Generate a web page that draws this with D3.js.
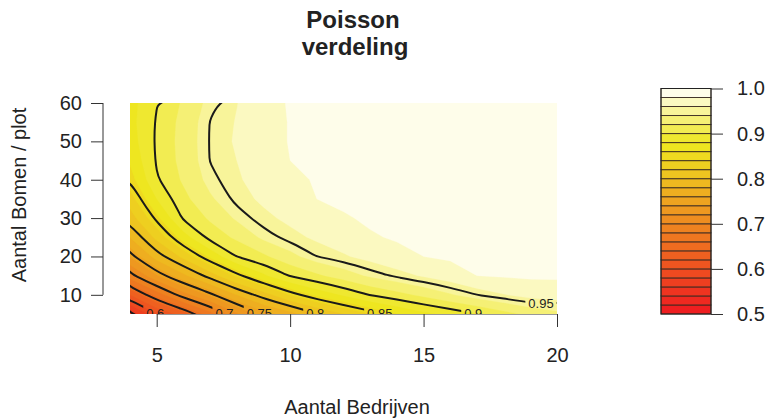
<!DOCTYPE html>
<html>
<head>
<meta charset="utf-8">
<script src="https://cdn.jsdelivr.net/npm/d3@7"></script>
<style>
  body { margin: 0; background: #fff; }
  #chart svg { display: block; font-family: "Liberation Sans", Arial, Helvetica, sans-serif; }
</style>
</head>
<body>
<div id="chart"></div>
<script>
// grid: x = Aantal Bedrijven, y = Aantal Bomen / plot
const bedrijven = [4, 5, 6, 7, 8, 9, 10, 11, 12, 13, 14, 15, 16, 17, 18, 19, 20];
const bomen = [5, 10, 15, 20, 25, 30, 35, 40, 45, 50, 55, 60];
// one row per value of bomen (bottom to top), one column per value of bedrijven
const kans = [
  [.544,.599,.631,.672,.717,.752,.772,.798,.820,.840,.859,.875,.887,.899,.913,.925,.935],
  [.621,.668,.711,.744,.781,.810,.841,.865,.883,.901,.913,.925,.938,.950,.959,.967,.969],
  [.692,.738,.775,.809,.844,.876,.902,.916,.930,.943,.953,.962,.970,.980,.982,.983,.983],
  [.742,.790,.826,.864,.9004,.916,.934,.950,.958,.966,.974,.980,.983,.985,.986,.987,.987],
  [.781,.826,.870,.907,.924,.944,.955,.963,.970,.978,.982,.985,.986,.987,.988,.988,.988],
  [.810,.855,.903,.923,.943,.956,.964,.972,.978,.983,.985,.986,.987,.988,.989,.989,.989],
  [.831,.880,.914,.937,.954,.963,.972,.980,.984,.985,.986,.987,.988,.989,.989,.990,.990],
  [.851,.898,.923,.946,.958,.967,.976,.9815,.985,.986,.987,.988,.989,.989,.990,.990,.990],
  [.863,.902,.927,.9505,.960,.970,.980,.984,.986,.987,.988,.989,.989,.990,.990,.990,.990],
  [.870,.903,.928,.951,.962,.972,.981,.985,.986,.987,.988,.989,.989,.990,.990,.990,.990],
  [.873,.902,.927,.9505,.961,.972,.981,.985,.987,.988,.988,.989,.990,.990,.990,.990,.990],
  [.872,.899,.923,.946,.9595,.971,.982,.985,.988,.989,.989,.990,.990,.990,.990,.990,.990]
];

const vulNiveaus = [0.50,0.52,0.54,0.56,0.58,0.60,0.62,0.64,0.66,0.68,0.70,0.72,0.74,
  0.76,0.78,0.80,0.82,0.84,0.86,0.88,0.90,0.92,0.94,0.96,0.98,1.00];
const lijnNiveaus = [0.55, 0.60, 0.65, 0.70, 0.75, 0.80, 0.85, 0.90, 0.95];
const labelNiveaus = [0.6, 0.7, 0.75, 0.8, 0.85, 0.9, 0.95];
const xTicks = [5, 10, 15, 20];
const yTicks = [10, 20, 30, 40, 50, 60];
const keyTicks = [0.5, 0.6, 0.7, 0.8, 0.9, 1.0];

const W = 766, H = 419;
const plot = { left: 130, right: 557, top: 103, bottom: 314 };

// R heat.colors(n), a little muted like the printed original
function heatColors(n) {
  const j = Math.floor(n / 4), i = n - j;
  const out = [];
  for (let k = 0; k < i; k++) out.push(hsv(k / (i - 1) / 6, 1));
  for (let k = 0; k < j; k++) out.push(hsv(1 / 6, (1 - 1 / (2 * j)) + k * (1 / j - 1) / (j - 1)));
  return out;
}
function hsv(h, s) {
  const g = 1 - s * (1 - h * 6), b = 1 - s;
  const R = 255 - 17 * s;
  const G = g * 255 * (1 - 0.1 * s) + 30 * s * (1 - g);
  const B = b * 255 + 32 * s * (1 - b);
  return d3.rgb(R, G, B).formatHex();
}
const kleuren = heatColors(vulNiveaus.length - 1);

let svg = d3.select("#chart").append("svg").attr("width", W).attr("height", H);

let x = d3.scaleLinear().domain([bedrijven[0], bedrijven[bedrijven.length - 1]]).range([plot.left, plot.right]);
let y = d3.scaleLinear().domain([bomen[0], bomen[bomen.length - 1]]).range([plot.bottom, plot.top]);
let key = d3.scaleLinear().domain([vulNiveaus[0], vulNiveaus[vulNiveaus.length - 1]]).range([314, 88.5]);

// grid index -> data value (d3.contours puts sample i at i + 0.5)
let ix = d3.scaleLinear().domain([0, bedrijven.length - 1]).range(x.domain());
let iy = d3.scaleLinear().domain([0, bomen.length - 1]).range(y.domain());
const toPx = (p) => [x(ix(p[0] - 0.5)), y(iy(p[1] - 0.5))];

const values = kans.flat();
const contours = d3.contours().size([bedrijven.length, bomen.length]);

let defs = svg.append("defs");
defs.append("clipPath").attr("id", "plotClip")
  .append("rect")
  .attr("x", plot.left).attr("y", plot.top)
  .attr("width", plot.right - plot.left).attr("height", plot.bottom - plot.top);

// x axis first, its line sits under the fill
let xAxis = svg.append("g")
  .attr("transform", "translate(0," + plot.bottom + ")")
  .call(d3.axisBottom(x).tickValues(xTicks).tickSize(13).tickPadding(21).tickSizeOuter(0));
xAxis.select(".domain").attr("d", "M" + x(xTicks[0]) + ",0H" + x(xTicks[xTicks.length - 1]));

// filled bands
let geo = d3.geoPath(d3.geoTransform({
  point: function (px, py) { const p = toPx([px, py]); this.stream.point(p[0], p[1]); }
}));
let plotG = svg.append("g").attr("clip-path", "url(#plotClip)");
plotG.selectAll("path.band")
  .data(contours.thresholds(vulNiveaus.slice(0, -1))(values))
  .enter()
  .append("path")
  .attr("class", "band")
  .attr("d", geo)
  .attr("fill", (d, i) => kleuren[i])
  .attr("stroke", (d, i) => kleuren[i])
  .attr("stroke-width", 0.3);

// contour lines, smoothed
let lijnen = contours.thresholds(lijnNiveaus)(values);
let ringLine = d3.line().curve(d3.curveBasisClosed);
let pxRings = lijnen.map(c => {
  let rings = [];
  c.coordinates.forEach(poly => poly.forEach(ring => rings.push(ring.map(toPx))));
  return { value: c.value, rings: rings };
});

// label positions: where the line meets the bottom edge, else near the right edge
let labels = [];
pxRings.filter(c => labelNiveaus.some(v => Math.abs(v - c.value) < 1e-6)).forEach(c => {
  let best = null;
  const yb = plot.bottom - 1;
  c.rings.forEach(r => {
    for (let k = 0; k < r.length - 1; k++) {
      const [x1, y1] = r[k], [x2, y2] = r[k + 1];
      if ((y1 - yb) * (y2 - yb) < 0) {
        const xc = x1 + (yb - y1) / (y2 - y1) * (x2 - x1);
        if (xc > plot.left + 10 && xc < plot.right - 10 && (!best || xc > best[0])) best = [xc, yb];
      }
    }
  });
  if (!best) {
    const xr = plot.right - 16;
    c.rings.forEach(r => {
      for (let k = 0; k < r.length - 1; k++) {
        const [x1, y1] = r[k], [x2, y2] = r[k + 1];
        if ((x1 - xr) * (x2 - xr) < 0) {
          const yc = y1 + (xr - x1) / (x2 - x1) * (y2 - y1);
          if (yc > plot.top && yc < plot.bottom && (!best || yc > best[1])) best = [xr, yc];
        }
      }
    });
  }
  if (best) labels.push({ value: c.value, x: best[0], y: best[1] });
});

let labelG = plotG.append("g");
labelG.selectAll("text")
  .data(labels)
  .enter()
  .append("text")
  .attr("x", d => d.x)
  .attr("y", d => d.y)
  .attr("dy", "0.35em")
  .attr("text-anchor", "middle")
  .attr("font-size", 13)
  .attr("fill", "#222")
  .text(d => d3.format("")(d.value));

let mask = defs.append("mask").attr("id", "labelMask")
  .attr("maskUnits", "userSpaceOnUse").attr("x", 0).attr("y", 0).attr("width", W).attr("height", H);
mask.append("rect").attr("width", W).attr("height", H).attr("fill", "white");
labelG.selectAll("text").each(function (d) {
  const w = this.getComputedTextLength();
  mask.append("rect")
    .attr("x", d.x - w / 2 - 3).attr("y", d.y - 7)
    .attr("width", w + 6).attr("height", 14)
    .attr("fill", "black");
});

plotG.insert("g", "g").attr("mask", "url(#labelMask)")
  .selectAll("path")
  .data(pxRings)
  .enter()
  .append("path")
  .attr("d", c => c.rings.map(r => ringLine(r.slice(0, -1))).join(""))
  .attr("fill", "none")
  .attr("stroke", "#1a1a1a")
  .attr("stroke-width", 2)
  .attr("stroke-linejoin", "round");

// y axis, set off to the left like the original
let yAxis = svg.append("g")
  .attr("transform", "translate(103,0)")
  .call(d3.axisLeft(y).tickValues(yTicks).tickSize(12).tickPadding(9).tickSizeOuter(0));
yAxis.select(".domain").attr("d", "M0," + y(yTicks[0]) + "V" + y(yTicks[yTicks.length - 1]));

[xAxis, yAxis].forEach(a => {
  a.selectAll(".domain, .tick line").attr("stroke", "#333");
  a.selectAll("text").attr("font-size", 20).attr("fill", "#222")
    .attr("font-family", "Liberation Sans, Arial, sans-serif");
});

// colour key
let keyG = svg.append("g");
keyG.selectAll("rect")
  .data(vulNiveaus.slice(0, -1))
  .enter()
  .append("rect")
  .attr("x", 661)
  .attr("width", 50)
  .attr("y", (d, i) => key(vulNiveaus[i + 1]))
  .attr("height", (d, i) => key(vulNiveaus[i]) - key(vulNiveaus[i + 1]))
  .attr("fill", (d, i) => kleuren[i])
  .attr("stroke", "#3a2a20")
  .attr("stroke-width", 0.9);
keyG.append("rect")
  .attr("x", 661).attr("y", key.range()[1])
  .attr("width", 50).attr("height", key.range()[0] - key.range()[1])
  .attr("fill", "none").attr("stroke", "#222").attr("stroke-width", 1);
let keyAxis = svg.append("g")
  .attr("transform", "translate(711,0)")
  .call(d3.axisRight(key).tickValues(keyTicks).tickSize(12).tickPadding(14).tickFormat(d3.format(".1f")));
keyAxis.select(".domain").remove();
keyAxis.selectAll(".tick line").attr("stroke", "#333");
keyAxis.selectAll("text").attr("font-size", 20).attr("fill", "#222")
  .attr("font-family", "Liberation Sans, Arial, sans-serif");

// titles
svg.append("text")
  .attr("x", 353).attr("y", 28)
  .attr("text-anchor", "middle")
  .attr("font-size", 24).attr("font-weight", "bold").attr("fill", "#222")
  .text("Poisson");
svg.append("text")
  .attr("x", 355).attr("y", 55)
  .attr("text-anchor", "middle")
  .attr("font-size", 24).attr("font-weight", "bold").attr("fill", "#222")
  .text("verdeling");
svg.append("text")
  .attr("x", 357).attr("y", 414)
  .attr("text-anchor", "middle")
  .attr("font-size", 20).attr("fill", "#222")
  .text("Aantal Bedrijven");
svg.append("text")
  .attr("transform", "translate(26,195) rotate(-90)")
  .attr("text-anchor", "middle")
  .attr("font-size", 20).attr("fill", "#222")
  .text("Aantal Bomen / plot");
</script>
</body>
</html>
